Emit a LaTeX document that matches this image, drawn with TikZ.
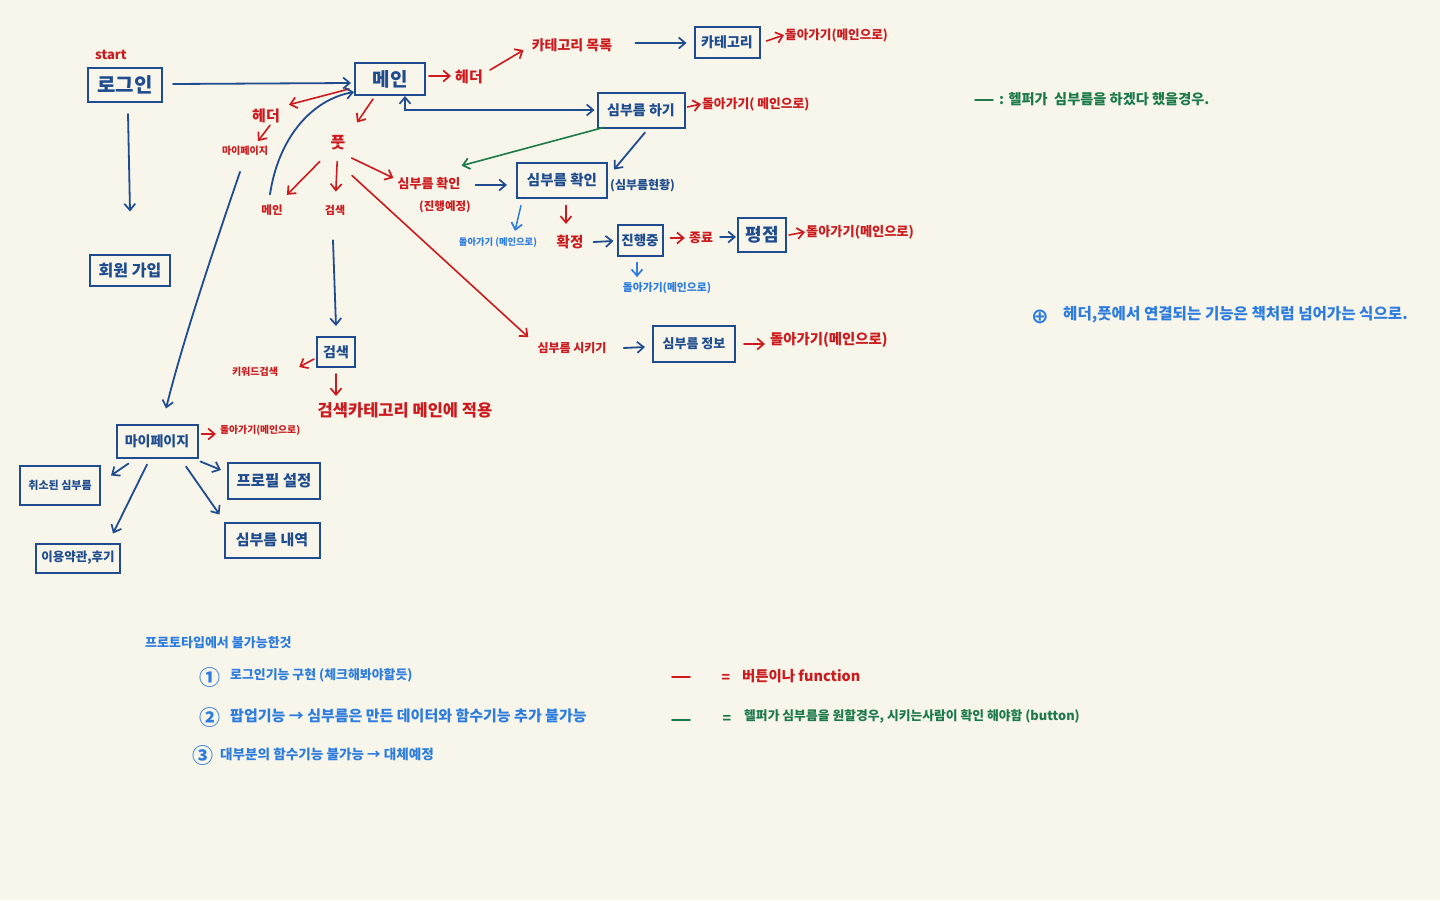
\documentclass[tikz,border=0pt]{standalone}
\usepackage{fontspec}
\setmainfont{Noto Sans CJK KR}
\newfontfamily\symfont{DejaVu Sans}
\usetikzlibrary{arrows.meta,calc}
\definecolor{paper}{RGB}{248,245,234}
\definecolor{dblue}{RGB}{30,76,143}
\definecolor{hred}{RGB}{204,26,30}
\definecolor{hgreen}{RGB}{27,122,72}
\definecolor{lblue}{RGB}{45,125,224}
\newcommand\fsz[1]{\fontsize{#1}{#1}\selectfont}
\begin{document}
\begin{tikzpicture}[x=1pt,y=-1pt,
  box/.style n args={3}{draw=dblue, line width=2pt, text=dblue, inner sep=0pt,
    minimum width=#1pt, minimum height=#2pt, font=\bfseries\fsz{#3}},
  rl/.style={text=hred, inner sep=1pt, font=\bfseries\fsz{#1}},
  bl/.style={text=dblue, inner sep=1pt, font=\bfseries\fsz{#1}},
  ll/.style={text=lblue, inner sep=1pt, font=\bfseries\fsz{#1}},
  gl/.style={text=hgreen, inner sep=1pt, font=\bfseries\fsz{#1}},
  tip/.tip={Straight Barb[length=6.5pt,width=11pt,line width=1.7pt]},
  ba/.style={draw=dblue, line width=1.8pt, line cap=round, -tip},
  bb/.style={draw=dblue, line width=1.8pt, line cap=round, tip-tip},
  ra/.style={draw=hred, line width=1.6pt, line cap=round, -tip},
  ga/.style={draw=hgreen, line width=1.6pt, line cap=round, -tip},
  la/.style={draw=lblue, line width=1.5pt, line cap=round, -tip},
  keydash/.style={line width=1.8pt, line cap=round}
]
\useasboundingbox (0,0) rectangle (1440,900);
\fill[paper] (0,0) rectangle (1440,900);

% ---- screens (boxes) and labels ----
\node[rl=13] (start) at (111,55) {start};
\node[box={74}{34}{20}] (login) at (125,85) {로그인};
\node[box={70}{32}{19}] (main) at (390,79) {메인};
\node[rl=15] (hdrR) at (469,77) {헤더};
\node[rl=14] (catlist) at (572,45) {카테고리 목록};
\node[box={65}{31}{14}] (cat) at (727,42) {카테고리};
\node[rl=12.6,anchor=west] (catback) at (784,35) {돌아가기(메인으로)};
\node[box={87}{35}{14}] (req) at (641,110) {심부름 하기};
\node[rl=12.8,anchor=west] (reqback) at (701,104) {돌아가기( 메인으로)};
\node[rl=15] (hdrL) at (266,116) {헤더};
\node[rl=10] (mypL) at (245,151) {마이페이지};
\node[rl=16] (foot) at (338,143) {풋};
\node[rl=11.5] (mainL) at (272,210) {메인};
\node[rl=11] (srchL) at (335,210) {검색};
\node[rl=13] (chkL) at (429,184) {심부름 확인};
\node[rl=11.5] (chkL2) at (445,207) {(진행예정)};
\node[box={90}{35}{14.5}] (chk) at (562,180) {심부름 확인};
\node[bl=12,anchor=west] (chkstat) at (609,186) {(심부름현황)};
\node[ll=9.3] (chkback) at (498,243) {돌아가기 (메인으로)};
\node[rl=14.5] (conf) at (570,242) {확정};
\node[box={45}{31}{13.5}] (prog) at (640,240) {진행중};
\node[rl=13] (fin) at (701,238) {종료};
\node[box={48}{34}{18}] (rate) at (762,235) {평점};
\node[rl=13.2,anchor=west] (rateback) at (805,232) {돌아가기(메인으로)};
\node[ll=10.8] (progback) at (667,288) {돌아가기(메인으로)};
\node[box={38}{30}{14}] (srch) at (336,352) {검색};
\node[rl=10] (kw) at (255,372) {키워드검색};
\node[rl=16.5] (apply) at (405,410) {검색카테고리 메인에 적용};
\node[rl=12] (order) at (572,348) {심부름 시키기};
\node[box={82}{36}{13}] (info) at (694,344) {심부름 정보};
\node[rl=14.4,anchor=west] (infoback) at (769,340) {돌아가기(메인으로)};
\node[box={80}{31}{16}] (join) at (130,270) {회원 가입};
\node[box={81}{33}{14}] (myp) at (157,441) {마이페이지};
\node[rl=9.8,anchor=west] (mypback) at (219,430) {돌아가기(메인으로)};
\node[box={80}{39}{11}] (cancel) at (60,485) {취소된 심부름};
\node[box={84}{29}{12.5}] (terms) at (78,558) {이용약관,후기};
\node[box={92}{36}{15.5}] (prof) at (274,481) {프로필 설정};
\node[box={95}{35}{15}] (hist) at (272,540) {심부름 내역};

% ---- connectors ----
\draw[ba] ($(login.east)+(10,-1)$) -- ($(main.west)+(-3,4)$);
\draw[ba] ($(login.south)+(3,11)$) -- ($(join.north)+(0,-42)$);
\draw[ra] ($(main.east)+(3,-3)$) -- ($(hdrR.west)+(-3,-1)$);
\draw[ra] ($(hdrR.east)+(6,-7)$) -- ($(catlist.west)+(-7,5)$);
\draw[ba] ($(catlist.east)+(22,-2)$) -- ($(cat.west)+(-7,1)$);
\draw[ra] ($(cat.east)+(6,-1)$) -- (catback.west);
\draw[bb] ($(main.south)+(15,0)$) |- ($(req.west)+(-2,0)$);
\draw[ra] ($(req.east)+(2,-3)$) -- (reqback.west);
\draw[ra] ($(main.south west)+(-5,-7)$) -- ($(hdrL.north east)+(8,-3)$);
\draw[ra] ($(hdrL.south)+(4,1)$) -- ($(mypL.north)+(13,-4)$);
\draw[ra] ($(main.south)+(-17,3)$) -- ($(foot.north)+(19,-12)$);
\draw[ra, shorten <=14pt, shorten >=12pt] (foot) -- (mainL);
\draw[ra, shorten <=10pt, shorten >=12pt] (foot) -- (srchL);
\draw[ra] ($(foot.east)+(5,15)$) -- ($(chkL.west)+(-3,-6)$);
\draw[ra] ($(foot.south)+(14,24)$) -- ($(order.north west)+(-8,-4)$);
\draw[ba] ($(mainL.north)+(-2,-9)$) .. controls (278,140) and (310,100) .. ($(main.south west)+(0,-4)$);
\draw[ba] ($(mypL.south)+(-5,15)$) .. controls (215,245) and (183,340) .. ($(myp.north)+(9,-15)$);
\draw[ba] ($(chkL.east)+(14,1)$) -- ($(chk.west)+(-9,5)$);
\draw[ba] ($(req.south)+(4,4)$) -- ($(chk.north east)+(6,8)$);
\draw[ga] ($(req.south west)+(7,-1)$) -- ($(chkL.north east)+(0,-11)$);
\draw[la] ($(chk.south west)+(5,7)$) -- ($(chkback.north)+(17,-6)$);
\draw[ra] ($(chk.south)+(4,7)$) -- ($(conf.north)+(-4,-10)$);
\draw[ba] ($(conf.east)+(9,0)$) -- ($(prog.west)+(-3,1)$);
\draw[ra] ($(prog.east)+(7,-2)$) -- ($(fin.west)+(-3,0)$);
\draw[ba] ($(fin.east)+(6,-1)$) -- ($(rate.west)+(-1,2)$);
\draw[ra] ($(rate.east)+(2,0)$) -- (rateback.west);
\draw[la] ($(prog.south)+(-3,6)$) -- ($(progback.north)+(-30,-4)$);
\draw[ba] ($(srchL.south)+(-2,24)$) -- ($(srch.north)+(0,-10)$);
\draw[ra] ($(srch.west)+(-2,7)$) -- ($(kw.east)+(20,-5)$);
\draw[ra] ($(srch.south)+(0,6)$) -- ($(srch.south |- apply.north)+(0,-5)$);
\draw[ba] ($(order.east)+(16,0)$) -- ($(info.west)+(-7,3)$);
\draw[ra] ($(info.east)+(8,0)$) -- ($(infoback.west)+(-4,4)$);
\draw[ra] ($(myp.east)+(3,-7)$) -- ($(mypback.west)+(-3,4)$);
\draw[ba] ($(myp.south west)+(13,5)$) -- ($(cancel.north east)+(10,11)$);
\draw[ba] ($(myp.south)+(-10,6)$) -- ($(terms.north)+(35,-9)$);
\draw[ba] ($(myp.south east)+(2,3)$) -- ($(prof.west)+(-6,-11)$);
\draw[ba] ($(myp.south)+(29,8)$) -- ($(hist.north west)+(-4,-7)$);

% ---- side notes ----
\draw[keydash, hgreen] (975,100) -- (993,100);
\node[gl=14.2,anchor=west] (gnote) at (998,99) {: 헬퍼가 \ 심부름을 하겠다 했을경우.};
\node[text=lblue, inner sep=0pt, font=\symfont\bfseries\fsz{21}] (plus) at (1040,317) {⊕};
\node[ll=15.6,anchor=west] (bnote) at (1062,315) {헤더,풋에서 연결되는 기능은 책처럼 넘어가는 식으로.};

% ---- prototype limits ----
\node[ll=13,anchor=west] (proto) at (144,643) {프로토타입에서 불가능한것};
\node[ll=21] (c1) at (210,678) {①};
\node[ll=12.9,anchor=west] (l1) at (229,675) {로그인기능 구현 (체크해봐야할듯)};
\node[ll=21] (c2) at (210,718) {②};
\node[ll=15,anchor=west] (l2) at (229,716) {팝업기능 → 심부름은 만든 데이터와 함수기능 추가 불가능};
\node[ll=21] (c3) at (203,756) {③};
\node[ll=13.6,anchor=west] (l3) at (219,754) {대부분의 함수기능 불가능 → 대체예정};

% ---- legend ----
\draw[keydash, hred] (672,677) -- (690,677);
\node[rl=14] (eq1) at (726,678) {=};
\node[rl=14.4,anchor=west] (leg1) at (741,676) {버튼이나 function};
\draw[keydash, hgreen] (672,720) -- (690,720);
\node[gl=14] (eq2) at (727,719) {=};
\node[gl=12.8,anchor=west] (leg2) at (743,716) {헬퍼가 심부름을 원할경우, 시키는사람이 확인 해야함 (button)};
\end{tikzpicture}
\end{document}
